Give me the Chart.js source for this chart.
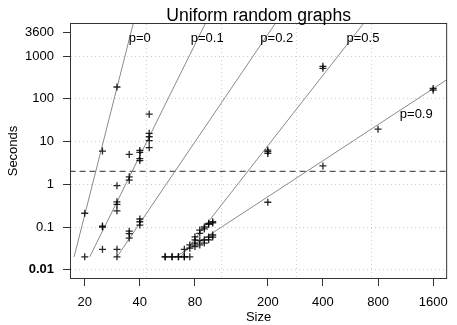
<!DOCTYPE html>
<html>
<head>
<meta charset="utf-8">
<script src="https://cdn.jsdelivr.net/npm/chart.js@4"></script>
<style>
  html, body { margin: 0; padding: 0; background: #fff; }
  #wrap { width: 457px; height: 325px; }
</style>
</head>
<body>
<div id="wrap"><canvas id="graphs"></canvas></div>
<script>
var xTicks = [20, 40, 80, 200, 400, 800, 1600];
var yTicks = [0.01, 0.1, 1, 10, 100, 1000, 3600];
var yTickLabels = ['0.01', '0.1', '1', '10', '100', '1000', '3600'];

// run times, one pair of arrays per p
var p0Size = [20, 25, 30];
var p0Sec = [0.21, 6, 190];
var p01Size = [20, 25, 25, 30, 30, 30, 30, 35, 35, 35, 40, 40, 40, 40, 45, 45, 45, 45, 45];
var p01Sec = [0.02, 0.1, 0.105, 0.93, 0.39, 0.34, 0.24, 5, 1.5, 1.25, 6.2, 5.6, 4.0, 3.6, 44, 15.6, 13, 10.5, 7.2];
var p02Size = [25, 30, 30, 35, 35, 35, 40, 40, 40];
var p02Sec = [0.03, 0.03, 0.02, 0.08, 0.07, 0.055, 0.154, 0.133, 0.111];
var p05Size = [55, 60, 65, 70, 70, 75, 80, 80, 85, 85, 90, 90, 95, 95, 100, 100, 200, 200, 200, 400, 400];
var p05Sec = [0.02, 0.02, 0.02, 0.02, 0.03, 0.038, 0.05, 0.059, 0.071, 0.085, 0.09, 0.1, 0.115, 0.122, 0.133, 0.125, 6.3, 5.8, 5.3, 520, 580];
var p09Size = [55, 60, 65, 70, 75, 75, 80, 80, 85, 85, 90, 90, 95, 95, 100, 100, 200, 400, 800, 1600, 1600];
var p09Sec = [0.02, 0.02, 0.02, 0.02, 0.02, 0.032, 0.035, 0.042, 0.038, 0.048, 0.042, 0.05, 0.05, 0.058, 0.065, 0.058, 0.38, 2.7, 19.5, 160, 175];

// fitted curves, end points as read
var fit0Size = [17.5, 38];     var fit0Sec = [0.02, 10000];
var fit01Size = [21.3, 97];    var fit01Sec = [0.02, 10000];
var fit02Size = [30, 239];     var fit02Sec = [0.02, 10000];
var fit05Size = [67, 735];     var fit05Sec = [0.02, 10000];
var fit09Size = [63, 2000];    var fit09Sec = [0.02, 326];

var limitSec = 2;

var pLabels = ['p=0', 'p=0.1', 'p=0.2', 'p=0.5', 'p=0.9'];
var pLabelSize = [34.8, 75.9, 182, 538, 1052];
var pLabelSec = [2600, 2600, 2600, 2600, 44.3];

function pts(xs, ys) {
    return xs.map(function(v, i) { return {x: v, y: ys[i]}; });
}

Chart.defaults.font.family = '"Liberation Sans", Arial, sans-serif';
Chart.defaults.color = '#000';

function fitLine(xs, ys) {
    return {
        data: pts(xs, ys), showLine: true, pointRadius: 0,
        borderColor: '#8a8a8a', borderWidth: 1, xAxisID: 'x', yAxisID: 'y', order: 2
    };
}
function marks(xs, ys) {
    return {
        data: pts(xs, ys), showLine: false, pointStyle: 'cross', pointRadius: 3.5,
        borderWidth: 1.3, borderColor: 'rgba(0,0,0,0.85)', backgroundColor: 'rgba(0,0,0,0.85)',
        xAxisID: 'x', yAxisID: 'y', order: 1
    };
}

var extras = {
    id: 'extras',
    afterDraw: function(chart) {
        var ctx = chart.ctx, a = chart.chartArea;
        var xs = chart.scales.x, ys = chart.scales.y;
        ctx.save();
        ctx.strokeStyle = '#333';
        ctx.lineWidth = 1;
        ctx.strokeRect(a.left - 0.5, a.top - 0.5, a.right - a.left + 1, a.bottom - a.top + 1);
        ctx.fillStyle = '#000';
        ctx.font = '17.6px "Liberation Sans", Arial, sans-serif';
        ctx.textAlign = 'center';
        ctx.textBaseline = 'alphabetic';
        ctx.fillText('Uniform random graphs', (a.left + a.right) / 2, 20.5);
        ctx.font = '13px "Liberation Sans", Arial, sans-serif';
        ctx.textAlign = 'left';
        ctx.textBaseline = 'middle';
        pLabels.forEach(function(t, i) {
            ctx.fillText(t, xs.getPixelForValue(pLabelSize[i]), ys.getPixelForValue(pLabelSec[i]));
        });
        ctx.restore();
    }
};

new Chart(document.getElementById('graphs'), {
    type: 'scatter',
    data: {
        datasets: [
            fitLine(fit0Size, fit0Sec),
            fitLine(fit01Size, fit01Sec),
            fitLine(fit02Size, fit02Sec),
            fitLine(fit05Size, fit05Sec),
            fitLine(fit09Size, fit09Sec),
            {
                data: [{x: 10, y: limitSec}, {x: 3000, y: limitSec}], showLine: true, pointRadius: 0,
                borderColor: '#555', borderWidth: 1.3, borderDash: [6, 4], xAxisID: 'x', yAxisID: 'y', order: 2
            },
            marks(p0Size, p0Sec),
            marks(p01Size, p01Sec),
            marks(p02Size, p02Sec),
            marks(p05Size, p05Sec),
            marks(p09Size, p09Sec)
        ]
    },
    options: {
        responsive: true,
        maintainAspectRatio: false,
        animation: false,
        events: [],
        layout: { padding: { top: 24, right: 3, left: 0, bottom: 0 } },
        plugins: { legend: { display: false }, tooltip: { enabled: false } },
        scales: {
            x: {
                type: 'logarithmic', position: 'bottom', min: 16.83, max: 1884,
                afterBuildTicks: function(s) { s.ticks = xTicks.map(function(v) { return {value: v}; }); },
                afterFit: function(s) { s.height = 47; },
                ticks: {
                    color: '#000', padding: 9, font: {size: 13}, maxRotation: 0, autoSkip: false,
                    callback: function(v, i) { return String(xTicks[i]); }
                },
                grid: { drawOnChartArea: false, tickColor: '#333', tickLength: 8 },
                border: { display: false },
                title: { display: true, text: 'Size', color: '#000', font: {size: 13}, padding: {top: 0, bottom: 0} }
            },
            xg: {
                type: 'linear', position: 'top', min: 0, max: 5,
                afterBuildTicks: function(s) { s.ticks = [1, 2, 3, 4].map(function(v) { return {value: v}; }); },
                afterFit: function(s) { s.height = 0; },
                ticks: { display: false },
                grid: { color: '#cfcfcf', drawTicks: false },
                border: { display: false, dash: [1, 3] }
            },
            y: {
                type: 'logarithmic', min: 0.0064, max: 5675,
                afterBuildTicks: function(s) { s.ticks = yTicks.map(function(v) { return {value: v}; }); },
                afterFit: function(s) { s.width = 71; },
                ticks: {
                    color: '#000', padding: 9,
                    font: function(c) {
                        return {size: 13, weight: (c.tick && c.tick.value === 0.01) ? 'bold' : 'normal'};
                    },
                    callback: function(v, i) { return yTickLabels[i]; }
                },
                grid: {
                    color: function(c) { return (c.tick && c.tick.value === 3600) ? 'rgba(0,0,0,0)' : '#cfcfcf'; },
                    tickColor: '#333', tickLength: 8, tickBorderDash: []
                },
                border: { display: false, dash: [1, 3] },
                title: { display: true, text: 'Seconds', color: '#000', font: {size: 13}, padding: {top: 6, bottom: 0} }
            }
        }
    },
    plugins: [extras]
});
</script>
</body>
</html>
